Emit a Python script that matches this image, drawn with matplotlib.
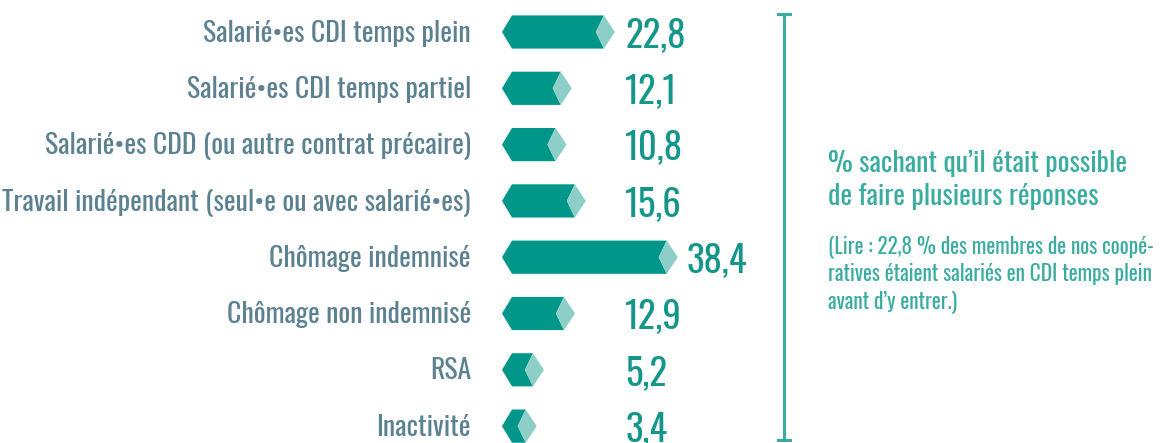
import matplotlib
matplotlib.use("Agg")
import matplotlib.pyplot as plt
from matplotlib.patches import Polygon
from matplotlib.lines import Line2D

categories = [
    "Salarié•es CDI temps plein",
    "Salarié•es CDI temps partiel",
    "Salarié•es CDD (ou autre contrat précaire)",
    "Travail indépendant (seul•e ou avec salarié•es)",
    "Chômage indemnisé",
    "Chômage non indemnisé",
    "RSA",
    "Inactivité",
]
values = [22.8, 12.1, 10.8, 15.6, 38.4, 12.9, 5.2, 3.4]
value_labels = ["22,8", "12,1", "10,8", "15,6", "38,4", "12,9", "5,2", "3,4"]

note_title = ["% sachant qu’il était possible", "de faire plusieurs réponses"]
note_body = ["(Lire : 22,8 % des membres de nos coopé-",
             "ratives étaient salariés en CDI temps plein",
             "avant d’y entrer.)"]

DARK = "#00978a"
LIGHT = "#8dcfc7"
LABEL_C = "#5c8291"
VALUE_C = "#14968a"
NOTE_C = "#3aaca0"
FONT = ["Oswald", "DejaVu Sans"]

W, H = 1162, 443
fig = plt.figure(figsize=(W / 100, H / 100), dpi=100)
ax = fig.add_axes([0, 0, 1, 1])
ax.set_axis_off()

PX = 4.03          # pixels per percentage point
X0 = 512           # pixel of value zero
ROW = 56.3         # pixels per row
Y0 = 32            # pixel of first row center
ax.set_xlim(-X0 / PX, (W - X0) / PX)
ax.set_ylim(7 + (H - Y0 - 7 * ROW) / ROW, -Y0 / ROW)

hh = 0.295         # half bar height (rows)
tip_l = 2.48       # left point depth
notch = 1.99       # notch depth
tip_r = 2.73       # right point length

for i, (cat, v, lab) in enumerate(zip(categories, values, value_labels)):
    dark = [(-tip_l, i), (0, i - hh), (v, i - hh), (v - notch, i),
            (v, i + hh), (0, i + hh)]
    light = [(v, i - hh), (v + tip_r, i), (v, i + hh), (v - notch, i)]
    ax.add_patch(Polygon(dark, closed=True, facecolor=DARK, edgecolor="none"))
    ax.add_patch(Polygon(light, closed=True, facecolor=LIGHT, edgecolor="none"))
    ax.text(-10.2, i + 0.172, cat, ha="right", va="baseline", color=LABEL_C,
            fontsize=20, family=FONT)
    xv = max(28.1, v + tip_r + 2.2)
    ax.text(xv, i + 0.266, lab, ha="left", va="baseline", color=VALUE_C,
            fontsize=26.5, family=FONT)

# bracket
bx = 784 / W
y_top, y_bot = 1 - 14 / H, 1 - 440 / H
cap = 6 / W
fig.add_artist(Line2D([bx, bx], [y_top, y_bot], color=NOTE_C, lw=2.2,
                      transform=fig.transFigure))
for yy in (y_top, y_bot):
    fig.add_artist(Line2D([bx - cap, bx + cap], [yy, yy], color=NOTE_C, lw=2.2,
                          transform=fig.transFigure))

tx = 828 / W
for line, yb in zip(note_title, (172, 205)):
    fig.text(tx, 1 - yb / H, line, ha="left", va="baseline", color=NOTE_C,
             fontsize=20, family=FONT)
for line, yb in zip(note_body, (253, 281, 308)):
    fig.text(tx, 1 - yb / H, line, ha="left", va="baseline", color=NOTE_C,
             fontsize=15.3, family=FONT)

fig.savefig("out.png", dpi=100, facecolor="white")
